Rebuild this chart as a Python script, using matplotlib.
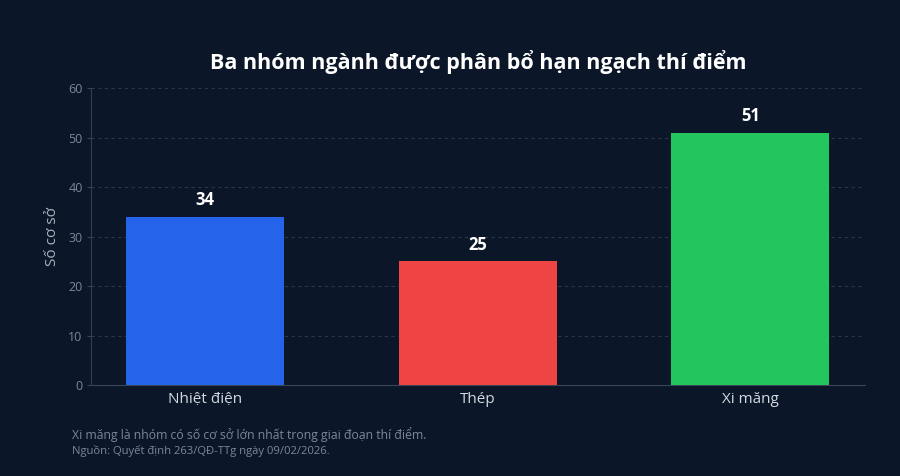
import matplotlib
matplotlib.use("Agg")
import matplotlib.pyplot as plt

categories = ["Nhiệt điện", "Thép", "Xi măng"]
values = [34, 25, 51]
colors = ["#2563eb", "#ef4444", "#22c55e"]
yticks = [0, 10, 20, 30, 40, 50, 60]

bg = "#0b1628"
plt.rcParams["font.family"] = ["Open Sans", "Noto Sans", "DejaVu Sans"]

fig = plt.figure(figsize=(9, 4.76), dpi=100, facecolor=bg)
ax = fig.add_axes([0.101, 0.191, 0.860, 0.624], facecolor=bg)

xs = range(len(categories))
ax.bar(xs, values, width=0.58, color=colors, zorder=3)
for x, v in zip(xs, values):
    ax.text(x, v + 1.5, str(v), ha="center", va="bottom", color="white",
            fontsize=12, fontweight="bold", zorder=4)

ax.set_xlim(-0.42, 2.42)
ax.set_ylim(0, 60)
ax.set_yticks(yticks)
ax.set_xticks(list(xs))
ax.set_xticklabels(categories, fontsize=11, color="#d4d9e1")
ax.tick_params(axis="x", length=0, pad=5)
ax.tick_params(axis="y", colors="#3a4558", labelcolor="#7d8799", labelsize=9, length=3, pad=3)
ax.grid(axis="y", color="#2c3648", linestyle=(0, (3, 3)), linewidth=0.8, zorder=0)
for s in ["top", "right"]:
    ax.spines[s].set_visible(False)
ax.spines["left"].set_color("#333e50")
ax.spines["bottom"].set_color("#3a4558")
ax.set_ylabel("Số cơ sở", color="#aab2c0", fontsize=11, labelpad=0)
ax.yaxis.set_label_coords(-0.04, 0.5)

fig.text(0.531, 0.87, "Ba nhóm ngành được phân bổ hạn ngạch thí điểm",
         ha="center", va="center", color="white", fontsize=15.5, fontweight="bold")
fig.text(0.08, 0.088, "Xi măng là nhóm có số cơ sở lớn nhất trong giai đoạn thí điểm.",
         ha="left", va="center", color="#7d8799", fontsize=8.8)
fig.text(0.08, 0.052, "Nguồn: Quyết định 263/QĐ-TTg ngày 09/02/2026.",
         ha="left", va="center", color="#7d8799", fontsize=8.1)

fig.savefig("out.png", dpi=100, facecolor=bg)
